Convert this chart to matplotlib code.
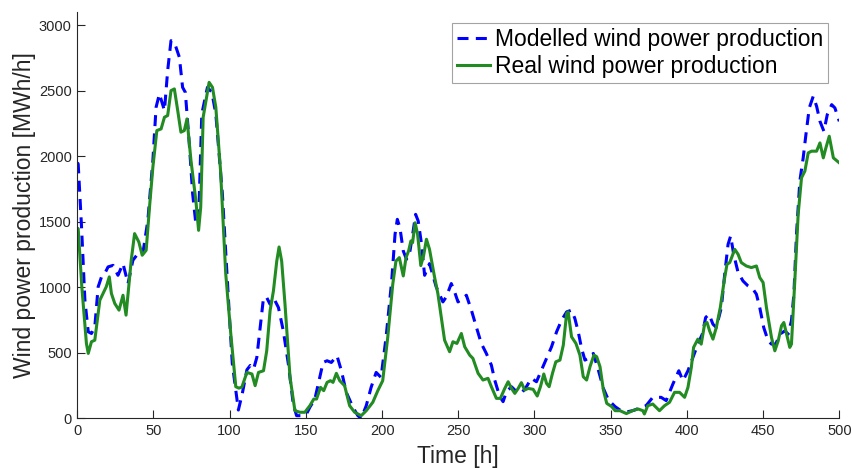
import numpy as np
import matplotlib
matplotlib.use("Agg")
import matplotlib.pyplot as plt

# modelled wind power production (blue, dashed)
t_model = [0, 0.6, 2.8, 5, 7.2, 9.3, 11.5, 13.7, 15.9, 18, 20.2, 23.5, 26.7, 30, 33.3,
           36.5, 39.8, 43, 46.3, 49.6, 51.7, 53.9, 57.2, 59.3, 61.5, 63.7, 67, 69.1,
           70.9, 73.5, 75.7, 77.8, 79.6, 81.7, 85.4, 88.3, 90.9, 95.2, 99.6, 101.7,
           104, 105.7, 108.3, 111.3, 113.5, 115.7, 117.8, 120, 122.2, 124.3, 126.5,
           128.7, 132, 135.2, 138.5, 141.7, 143.9, 147.2, 150.4, 152.6, 155.9, 159.1,
           161.3, 163.9, 166.7, 170.4, 173.3, 176.5, 180.9, 184.1, 186.3, 189.6,
           192.8, 196.1, 199.3, 202.6, 206.3, 208.5, 210, 211.7, 213.9, 216, 218.3,
           220.4, 222, 223.7, 225.9, 227.9, 231.1, 235.5, 239.9, 242.1, 245.4, 247.6,
           249.8, 253.1, 255.3, 258.6, 261.8, 265.1, 268.4, 271.7, 273.9, 277.2,
           279.4, 281.6, 284.9, 288.2, 291.4, 294.7, 298, 301.3, 304.6, 307.9, 311.2,
           314.5, 317.8, 321.1, 324.3, 326.5, 328.7, 330.9, 333.1, 335.3, 338.6,
           341.9, 345.2, 348.5, 352.9, 356.1, 360.3, 365, 370, 373.2, 377.6, 383.1,
           386.4, 390.8, 394.7, 397.4, 400.7, 403.9, 407.2, 410.1, 412.3, 414.5,
           417.1, 419.3, 422.6, 424.8, 427, 428.7, 430.7, 433.6, 436.8, 440.1, 443.4,
           445.6, 447.8, 450.4, 453.3, 455.5, 458.3, 461, 464.3, 466.4, 468.6, 470.2,
           471.9, 474.1, 476.3, 478.1, 480.3, 482.9, 485.1, 487.3, 489.9, 492.1, 495,
           497.1, 500]
p_model = [1950, 1941, 1459, 901, 660, 647, 698, 1003, 1079, 1104, 1155, 1167, 1091,
           1180, 1028, 1206, 1256, 1256, 1510, 1967, 2373, 2475, 2348, 2652, 2881,
           2868, 2754, 2525, 2487, 2094, 1713, 1485, 1510, 2322, 2525, 2487, 2322,
           1713, 825, 419, 216, 63, 190, 370, 403, 376, 464, 693, 921, 921, 870, 921,
           845, 667, 414, 109, 20, 20, 33, 84, 147, 312, 426, 439, 426, 477, 363, 198,
           84, 20, 0, 96, 236, 350, 312, 617, 1048, 1404, 1518, 1454, 1277, 1213,
           1277, 1429, 1556, 1505, 1327, 1091, 1180, 1003, 888, 926, 1028, 964, 888,
           914, 939, 825, 698, 571, 495, 406, 292, 165, 127, 203, 241, 203, 190, 241,
           305, 279, 368, 457, 546, 660, 749, 812, 825, 761, 660, 533, 444, 457, 495,
           368, 228, 140, 89, 63, 48, 60, 84, 96, 160, 160, 135, 261, 363, 287, 363,
           464, 566, 642, 769, 794, 718, 693, 845, 1099, 1327, 1391, 1251, 1112,
           1048, 1010, 985, 947, 845, 693, 591, 566, 566, 642, 667, 642, 744, 947,
           1404, 1810, 1987, 2165, 2368, 2457, 2381, 2266, 2190, 2317, 2393, 2368,
           2266]

# real wind power production (green, solid)
t_real = [0, 0.6, 3, 6, 7.2, 9.3, 11.5, 14.8, 19, 21, 22.4, 24.6, 27.4, 30, 32,
          35.4, 37.6, 40.4, 42.6, 45.2, 47.4, 49.6, 52.2, 55, 57.2, 59.3, 61.5,
          63.7, 65.9, 68, 70.2, 72, 74.6, 77.8, 79.6, 81, 82.6, 86.5, 88.7, 90.9, 94,
          97.4, 100.7, 104, 106, 108, 111.3, 114.6, 116.7, 118.9, 122.2, 124.3,
          126.5, 128.7, 130.9, 132.4, 134.1, 136.3, 139.6, 142.8, 146.1, 149.3,
          152.6, 155.2, 157, 159.6, 161.7, 163.9, 166.1, 167.8, 170, 172.2, 175.4,
          178.7, 182, 186.3, 189.6, 193.9, 197.2, 200.4, 203.7, 207, 209.1, 211.3,
          213.9, 215.7, 217.4, 218.9, 220, 221.7, 223.3, 225.4, 227.2, 229.1, 231.1,
          234.4, 236.6, 238.8, 241, 244.3, 246.5, 249.1, 252, 254.2, 257.5, 259.6,
          263, 266.2, 269.5, 271.7, 275, 277.6, 280.5, 282.7, 284.9, 287.1, 289.3,
          291.4, 293.6, 295.8, 299.1, 301.8, 303.9, 306.1, 307.9, 309.6, 311.8, 314,
          316.7, 318.9, 321.1, 322.1, 324.3, 327.2, 329.8, 332, 334.2, 336.4, 339,
          340.8, 343, 345.2, 347.4, 350.7, 352.9, 356.1, 360.3, 364.7, 368, 371.1,
          372.1, 374.3, 377.6, 382, 385.3, 388.6, 391.9, 395.2, 398.5, 400.7, 402.9,
          404.4, 407.2, 409.4, 411.6, 413.2, 414.9, 417.1, 419.3, 421.9, 424.8,
          426.3, 428.1, 429.8, 431.4, 433.6, 435.7, 439, 442.3, 445.6, 447.8, 450,
          452.2, 455.5, 457.7, 459.9, 462.1, 463.6, 465.4, 467.5, 468.6, 470.8, 473,
          475.2, 477.4, 479.6, 481.8, 485.1, 487.3, 489.5, 491.2, 493.4, 496.1, 500]
p_real = [1450, 1447, 1000, 571, 495, 584, 596, 901, 1003, 1079, 952, 876, 825, 939,
          787, 1206, 1409, 1345, 1244, 1282, 1612, 1916, 2195, 2208, 2297, 2310,
          2500, 2513, 2348, 2183, 2195, 2284, 1967, 1662, 1434, 1612, 2297, 2563,
          2525, 2373, 1891, 1104, 647, 241, 230, 238, 350, 338, 249, 350, 363, 515,
          820, 972, 1200, 1307, 1200, 870, 312, 58, 46, 46, 96, 147, 147, 236, 211,
          274, 287, 274, 343, 287, 249, 96, 46, 20, 58, 122, 211, 287, 617, 1023,
          1200, 1226, 1086, 1226, 1277, 1353, 1340, 1492, 1404, 1165, 1239, 1366,
          1290, 1079, 952, 774, 596, 508, 584, 571, 647, 546, 482, 457, 343, 292,
          305, 241, 152, 152, 228, 279, 228, 190, 228, 272, 216, 228, 221, 170, 241,
          338, 266, 241, 343, 431, 444, 558, 800, 812, 622, 571, 482, 317, 292, 393,
          482, 470, 393, 216, 114, 89, 58, 58, 36, 60, 71, 58, 33, 96, 109, 58, 96,
          122, 198, 198, 160, 236, 388, 541, 604, 566, 718, 731, 667, 604, 693, 845,
          1074, 1175, 1188, 1239, 1289, 1251, 1188, 1162, 1150, 1162, 1074, 1036,
          845, 617, 515, 591, 706, 731, 642, 541, 566, 1048, 1556, 1835, 1886, 2025,
          2038, 2038, 2101, 1987, 2063, 2152, 1987, 1949]

yticks = [0, 500, 1000, 1500, 2000, 2500, 3000]
xticks = [0, 50, 100, 150, 200, 250, 300, 350, 400, 450, 500]

plt.rcParams['font.family'] = ['Liberation Sans', 'DejaVu Sans']

fig = plt.figure(figsize=(8.52, 4.68), dpi=100)
ax = fig.add_axes([0.0907, 0.1062, 0.8944, 0.8682])

ax.plot(t_model, p_model, color='#0000ff', linestyle=(0, (3.6, 2.4)), linewidth=2.2,
        label='Modelled wind power production')
ax.plot(t_real, p_real, color='#228b22', linestyle='-', linewidth=2.2,
        label='Real wind power production')

ax.set_xlim(0, 500)
ax.set_ylim(0, 3100)
ax.set_xticks(xticks)
ax.set_yticks(yticks)
ax.tick_params(direction='in', length=6, width=0.8, labelsize=10.5,
               colors='#262626', pad=4)
ax.spines['top'].set_visible(False)
ax.spines['right'].set_visible(False)
for s in ('left', 'bottom'):
    ax.spines[s].set_color('#262626')
    ax.spines[s].set_linewidth(0.8)

ax.set_xlabel('Time [h]', fontsize=16.5, color='#262626', labelpad=5)
ax.set_ylabel('Wind power production [MWh/h]', fontsize=16.5, color='#262626',
              labelpad=2)

leg = ax.legend(loc='upper right', fontsize=16.5, frameon=True, fancybox=False,
                edgecolor='#8c8c8c', handlelength=1.48, handletextpad=0.22,
                borderpad=0.2, labelspacing=0.2, borderaxespad=0.48)
leg.get_frame().set_linewidth(0.8)

fig.savefig('out.png', dpi=100)
